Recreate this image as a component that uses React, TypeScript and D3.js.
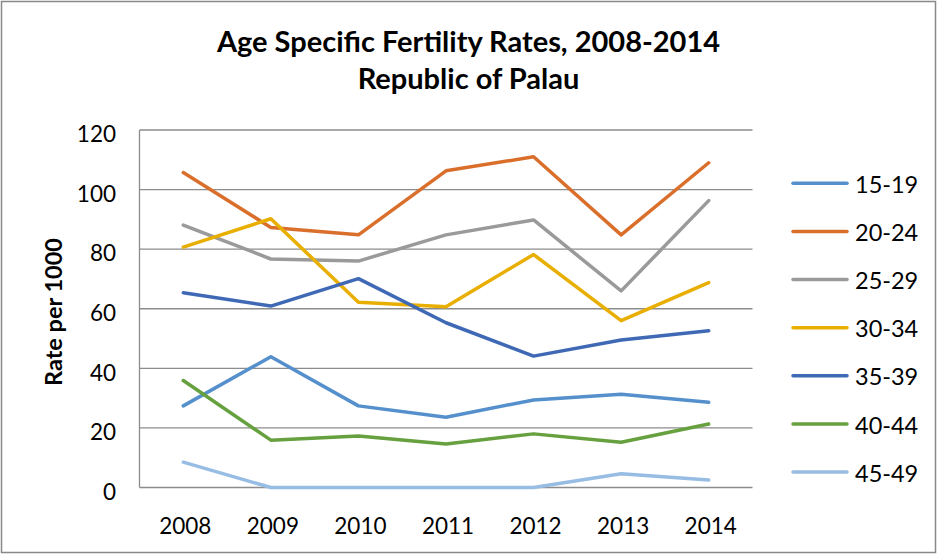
import React from "react";
import * as d3 from "d3";

const years = ["2008", "2009", "2010", "2011", "2012", "2013", "2014"];
const seriesNames = ["15-19", "20-24", "25-29", "30-34", "35-39", "40-44", "45-49"];
const s1519 = [27.4, 43.9, 27.4, 23.6, 29.4, 31.3, 28.6];
const s2024 = [105.7, 87.3, 84.8, 106.3, 111.0, 84.8, 109.0];
const s2529 = [88.1, 76.7, 76.0, 84.8, 89.8, 66.0, 96.3];
const s3034 = [80.7, 90.2, 62.2, 60.7, 78.2, 56.0, 68.8];
const s3539 = [65.4, 60.9, 70.1, 55.3, 44.1, 49.5, 52.6];
const s4044 = [35.9, 15.9, 17.3, 14.6, 18.0, 15.2, 21.3];
const s4549 = [8.5, 0, 0, 0, 0, 4.6, 2.5];
const yTicks = [0, 20, 40, 60, 80, 100, 120];
const colors = ["#5590CC", "#DA6F2C", "#9A9A9A", "#E8AE00", "#3F69B5", "#66A03F", "#98BDE4"];
const titleLines = ["Age Specific Fertility Rates, 2008-2014", "Republic of Palau"];
const yLabel = "Rate per 1000";

const W = 937;
const H = 554;
const plot = { left: 139.5, right: 752.5, top: 130, bottom: 487.5 };
const font = "Lato, 'Open Sans', sans-serif";

export default function App() {
  const values = [s1519, s2024, s2529, s3034, s3539, s4044, s4549];
  const x = d3.scaleBand<string>().domain(years).range([plot.left, plot.right]);
  const y = d3.scaleLinear().domain([0, 120]).range([plot.bottom, plot.top]);
  const cx = (d: string) => (x(d) as number) + x.bandwidth() / 2;
  const line = d3
    .line<number>()
    .x((_, i) => cx(years[i]))
    .y((v) => y(v));

  const legendX1 = 793;
  const legendX2 = 847;
  const legendY = d3.scalePoint<string>().domain(seriesNames).range([183.3, 472]);

  return (
    <svg
      width={W}
      height={H}
      style={{ position: "absolute", left: 0, top: 0, display: "block", background: "#fff" }}
      fontFamily={font}
    >
      <rect x={1.5} y={1.5} width={W - 3} height={H - 3} fill="#fff" stroke="#898989" strokeWidth={1.5} />
      {titleLines.map((t, i) => (
        <text
          key={t}
          x={468.5}
          y={52 + i * 37}
          textAnchor="middle"
          fontWeight={700}
          fontSize={29}
          fill="#000"
        >
          {t}
        </text>
      ))}
      {yTicks.map((t) => (
        <g key={t}>
          <line x1={plot.left} x2={plot.right} y1={y(t)} y2={y(t)} stroke="#8C8C8C" strokeWidth={1.3} />
          <text x={116} y={y(t) + 5} dy="0.32em" textAnchor="end" fontSize={22.5} fill="#000">
            {t}
          </text>
        </g>
      ))}
      <line x1={plot.left} x2={plot.left} y1={plot.top} y2={plot.bottom} stroke="#8C8C8C" strokeWidth={1.3} />
      {years.map((yr) => (
        <text key={yr} x={cx(yr) + 2} y={526} dy="0.35em" textAnchor="middle" fontSize={22.5} fill="#000">
          {yr}
        </text>
      ))}
      <text
        transform={`translate(54, 312) rotate(-90)`}
        textAnchor="middle"
        dy="0.35em"
        fontWeight={700}
        fontSize={23.5}
        fill="#000"
      >
        {yLabel}
      </text>
      {values.map((vals, i) => (
        <path
          key={seriesNames[i]}
          d={line(vals) || ""}
          fill="none"
          stroke={colors[i]}
          strokeWidth={3.5}
          strokeLinejoin="round"
          strokeLinecap="round"
        />
      ))}
      {seriesNames.map((s, i) => (
        <g key={s}>
          <line
            x1={legendX1}
            x2={legendX2}
            y1={legendY(s)}
            y2={legendY(s)}
            stroke={colors[i]}
            strokeWidth={3.5}
            strokeLinecap="round"
          />
          <text x={855} y={(legendY(s) as number) + 1.5} dy="0.35em" fontSize={23.5} fill="#000">
            {s}
          </text>
        </g>
      ))}
    </svg>
  );
}
